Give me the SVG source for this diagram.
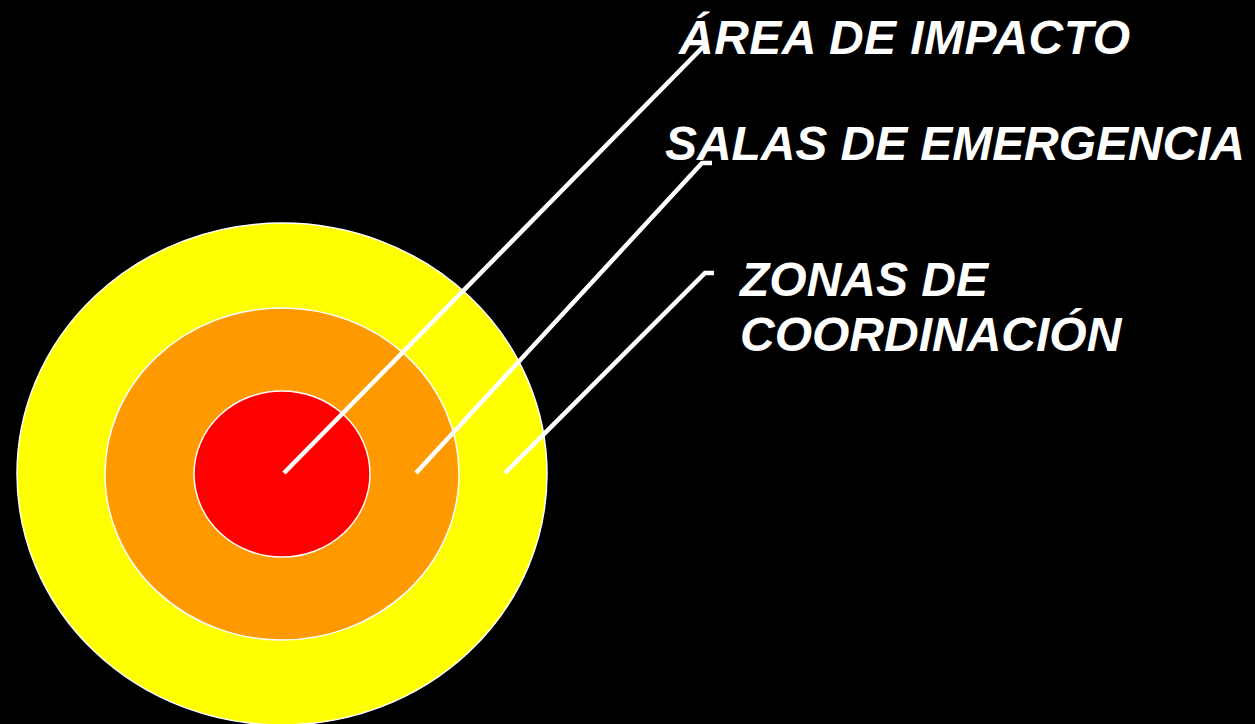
<svg xmlns="http://www.w3.org/2000/svg" width="1255" height="724" viewBox="0 0 1255 724">
<style>
.ring{stroke:#ffffff;stroke-width:1.5}
.lbl{font-family:"Liberation Sans",Arial,sans-serif;font-weight:bold;font-style:italic;font-size:48px;fill:#ffffff}
.conn{fill:none;stroke:#ffffff;stroke-width:4.5}
</style>
<rect x="0" y="0" width="1255" height="724" fill="#000000"/>
<g id="zona-coordinacion"><ellipse class="ring" cx="282" cy="474" rx="265" ry="251" fill="#ffff00"/></g>
<g id="salas-emergencia"><ellipse class="ring" cx="282" cy="474" rx="177" ry="166" fill="#ff9900"/></g>
<g id="area-impacto"><ellipse class="ring" cx="282" cy="474" rx="88" ry="83" fill="#ff0000"/></g>
<g id="connectors">
<polyline class="conn" points="284,473 702,48 709,48"/>
<polyline class="conn" points="416,473 702,163 712,163"/>
<polyline class="conn" points="505,473 705,273 714,273"/>
</g>
<g id="labels">
<text class="lbl" x="679" y="54" textLength="451">ÁREA DE IMPACTO</text>
<text class="lbl" x="665" y="160" textLength="580">SALAS DE EMERGENCIA</text>
<text class="lbl" x="740" y="296">ZONAS DE</text>
<text class="lbl" x="740" y="351">COORDINACIÓN</text>
</g>
</svg>
